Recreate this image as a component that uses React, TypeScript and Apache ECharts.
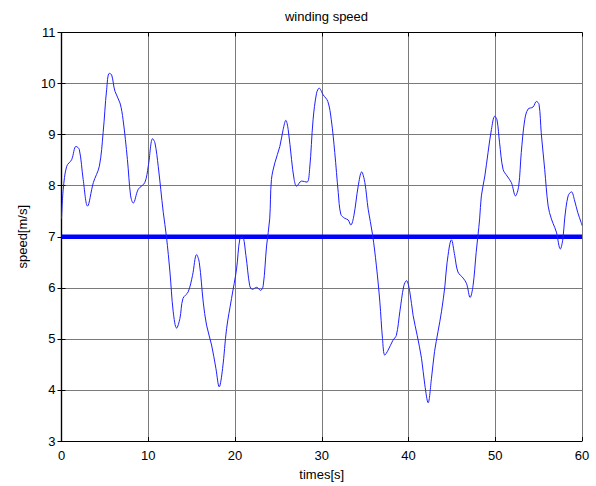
import React, { useEffect, useRef } from "react";
import * as echarts from "echarts";

const times = [
  0, 0.2, 0.6, 1.17, 1.67, 2.05, 2.5, 3.0, 3.67, 4.36, 4.8, 5.2, 5.5, 5.78, 6.16, 6.74, 7.1, 7.6, 7.97, 8.27,
  8.85, 9.6, 10.0, 10.5, 10.77, 11.15, 11.73, 12.1, 12.5, 12.88, 13.27, 13.65, 14.0, 14.6, 15.1, 15.57, 15.88,
  16.34, 16.72, 17.3, 17.8, 18.18, 18.57, 19.03, 19.6, 20.18, 20.56, 20.87, 21.26, 21.7, 22.0, 22.5, 22.95,
  23.25, 23.64, 24.0, 24.2, 24.6, 25.17, 25.55, 25.86, 26.13, 26.52, 26.82, 27.1, 27.67, 28.3, 28.6, 29.0,
  29.4, 29.7, 30.16, 30.7, 31.1, 31.5, 31.9, 32.2, 32.66, 33.04, 33.35, 33.7, 34.2, 34.6, 34.97, 35.35,
  35.85, 36.3, 36.7, 37.0, 37.27, 37.65, 38.2, 38.6, 39.0, 39.46, 39.77, 40.15, 40.53, 41.0, 41.5, 41.88,
  42.26, 42.65, 43.0, 43.4, 43.8, 44.2, 44.45, 44.95, 45.33, 45.7, 46.3, 46.7, 47.1, 47.44, 47.8, 48.2,
  48.4, 48.8, 49.17, 49.56, 49.94, 50.2, 50.5, 50.9, 51.36, 51.86, 52.33, 52.7, 53.0, 53.4, 53.78, 54.35,
  54.75, 55.05, 55.3, 55.7, 56.1, 56.47, 56.86, 57.05, 57.5, 57.8, 58.0, 58.4, 58.78, 59.16, 59.5, 59.9, 60.0,
];

const speeds = [
  7.35, 7.93, 8.38, 8.51, 8.77, 8.71, 8.12, 7.6, 8.06, 8.38, 9.04, 9.88, 10.2, 10.17, 9.85, 9.62, 9.29, 8.51,
  7.8, 7.66, 7.93, 8.06, 8.38, 8.92, 8.84, 8.38, 7.48, 7.0, 6.31, 5.53, 5.21, 5.4, 5.79, 5.92, 6.24, 6.65,
  6.5, 5.72, 5.27, 4.88, 4.42, 4.06, 4.42, 5.2, 5.79, 6.37, 6.96, 6.99, 6.63, 6.04, 5.97, 6.01, 5.95, 6.04,
  6.82, 7.35, 8.12, 8.45, 8.77, 9.1, 9.28, 9.1, 8.51, 8.12, 7.99, 8.09, 8.07, 8.32, 9.29, 9.81, 9.91, 9.78,
  9.65, 9.29, 8.65, 7.87, 7.44, 7.36, 7.33, 7.23, 7.41, 7.99, 8.27, 8.06, 7.54, 7.05, 6.43, 5.72, 5.01,
  4.68, 4.78, 4.97, 5.07, 5.53, 6.04, 6.14, 5.92, 5.46, 5.07, 4.62, 4.1, 3.75, 4.23, 4.75, 5.14, 5.53, 6.04,
  6.5, 6.94, 6.63, 6.31, 6.19, 6.08, 5.81, 6.04, 6.69, 7.35, 7.8, 8.19, 8.65, 9.1, 9.36, 9.29, 8.84, 8.32,
  8.19, 8.06, 7.8, 7.99, 8.65, 9.29, 9.5, 9.54, 9.65, 9.59, 9.04, 8.32, 7.6, 7.35, 7.18, 7.09, 6.76, 6.96,
  7.35, 7.8, 7.88, 7.7, 7.48, 7.28, 7.22,
];

const referenceSpeed = 7;
const referenceTimes = [0, 60];

const xMin = 0, xMax = 60, xStep = 10;
const yMin = 3, yMax = 11, yStep = 1;

const FONT = "Liberation Sans, Arial, sans-serif";

export default function App() {
  const ref = useRef<HTMLDivElement>(null);
  useEffect(() => {
    if (!ref.current) return;
    const chart = echarts.init(ref.current, null, { renderer: "svg" });
    const grid = { left: 61.5, right: 14, top: 32.5, bottom: 43.3, containLabel: false };
    const tickStyle = { show: true, inside: true, length: 4, lineStyle: { color: "#000", width: 1 } };
    const lineStyle = { show: true, lineStyle: { color: "#000", width: 1.2 } };
    const splitLine = { show: true, lineStyle: { color: "#7a7a7a", width: 1 } };
    chart.setOption({
      animation: false,
      backgroundColor: "#fff",
      title: {
        text: "winding speed",
        left: 321.5,
        top: 5,
        textAlign: "center",
        textStyle: { fontFamily: FONT, fontSize: 13, fontWeight: "normal", color: "#000" },
      },
      grid,
      xAxis: [
        {
          type: "value",
          min: xMin,
          max: xMax,
          interval: xStep,
          position: "bottom",
          name: "times[s]",
          nameLocation: "middle",
          nameGap: 27,
          nameTextStyle: { fontFamily: FONT, fontSize: 13, color: "#000" },
          axisLine: lineStyle,
          axisTick: tickStyle,
          axisLabel: { fontFamily: FONT, fontSize: 13, color: "#000", margin: 8 },
          splitLine,
        },
        {
          type: "value",
          min: xMin,
          max: xMax,
          interval: xStep,
          position: "top",
          axisLine: lineStyle,
          axisTick: tickStyle,
          axisLabel: { show: false },
          splitLine: { show: false },
        },
      ],
      yAxis: [
        {
          type: "value",
          min: yMin,
          max: yMax,
          interval: yStep,
          position: "left",
          name: "speed[m/s]",
          nameLocation: "middle",
          nameGap: 33,
          nameRotate: 90,
          nameTextStyle: { fontFamily: FONT, fontSize: 13, color: "#000" },
          axisLine: lineStyle,
          axisTick: tickStyle,
          axisLabel: { fontFamily: FONT, fontSize: 13, color: "#000", margin: 6 },
          splitLine,
        },
        {
          type: "value",
          min: yMin,
          max: yMax,
          interval: yStep,
          position: "right",
          axisLine: lineStyle,
          axisTick: tickStyle,
          axisLabel: { show: false },
          splitLine: { show: false },
        },
      ],
      series: [
        {
          type: "line",
          xAxisIndex: 0,
          yAxisIndex: 0,
          data: referenceTimes.map((t) => [t, referenceSpeed]),
          showSymbol: false,
          lineStyle: { color: "#0000ff", width: 4.5 },
          z: 3,
        },
        {
          type: "line",
          xAxisIndex: 0,
          yAxisIndex: 0,
          data: times.map((t, i) => [t, speeds[i]]),
          showSymbol: false,
          smooth: 0.35,
          lineStyle: { color: "#1f1fff", width: 1 },
          z: 4,
        },
      ],
    });
    return () => chart.dispose();
  }, []);
  return (
    <div
      ref={ref}
      style={{ position: "fixed", left: 0, top: 0, width: 596, height: 486, background: "#fff" }}
    />
  );
}
